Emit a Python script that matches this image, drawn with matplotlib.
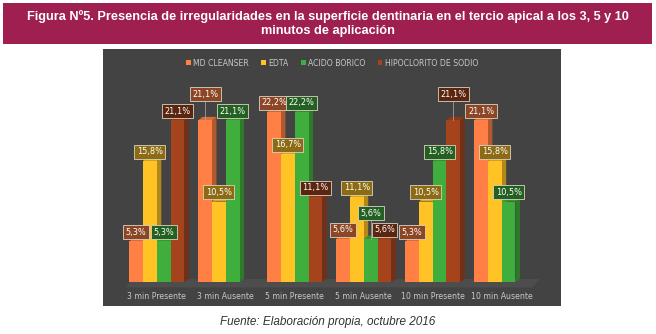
import numpy as np
import matplotlib.pyplot as plt
from matplotlib.patches import Polygon, Patch, Rectangle
from matplotlib.colors import to_rgb

categories = ['3 min Presente', '3 min Ausente', '5 min Presente',
              '5 min Ausente', '10 min Presente', '10 min Ausente']
series = ['MD CLEANSER', 'EDTA', 'ACIDO BORICO', 'HIPOCLORITO DE SODIO']
md_cleanser = [5.3, 21.1, 22.2, 5.6, 5.3, 21.1]
edta = [15.8, 10.5, 16.7, 11.1, 10.5, 15.8]
acido_borico = [5.3, 21.1, 22.2, 5.6, 15.8, 10.5]
hipoclorito = [21.1, 0, 11.1, 5.6, 21.1, 0]
colors = ['#ff7f45', '#ffc325', '#3fae3c', '#a5431c']

title = ('Figura Nº5. Presencia de irregularidades en la superficie dentinaria en el tercio apical a los 3, 5 y 10\n'
         'minutos de aplicación')
source = 'Fuente: Elaboración propia, octubre 2016'

values = [md_cleanser, edta, acido_borico, hipoclorito]
# labels pushed higher (with a leader line) to avoid overlaps
raised = {(0, 1), (3, 4), (2, 3)}

W, H = 656, 334
fig = plt.figure(figsize=(W / 100, H / 100), dpi=100)
fig.patch.set_facecolor('white')

# title banner
fig.patches.append(Rectangle((3 / W, 1 - 44 / H), 649 / W, 41 / H,
                             transform=fig.transFigure, facecolor='#9e1f50',
                             edgecolor='none', zorder=-1))
fig.text(0.5, 1 - 23.5 / H, title, ha='center', va='center', color='white',
         fontsize=9.2, fontweight='bold', linespacing=1.2,
         family=['Liberation Sans', 'DejaVu Sans'])

# dark chart panel
fig.patches.append(Rectangle((103 / W, 1 - 306 / H), 458 / W, 257 / H,
                             transform=fig.transFigure, facecolor='#434343',
                             edgecolor='none', zorder=-1))

ax = fig.add_axes([103 / W, 1 - 289 / H, 458 / W, 240 / H])
ax.patch.set_visible(False)
ax.set_xlim(-0.78, 5.86)
ax.set_ylim(-0.9, 30.4)
for s in ax.spines.values():
    s.set_visible(False)
ax.set_yticks([])

def shade(c, f):
    r, g, b = to_rgb(c)
    if f < 1:
        return (r * f, g * f, b * f)
    return tuple(x + (1 - x) * (f - 1) for x in (r, g, b))

bw = 0.2
dx, dy = 0.065, 0.45
x = np.arange(len(categories))

# floor under the bars
ax.add_patch(Polygon([(-0.45, -0.7), (5.45, -0.7), (5.55, 0.4), (-0.35, 0.4)],
                     closed=True, facecolor='#4d4d4d', edgecolor='none', zorder=0))

for j, (vals, col) in enumerate(zip(values, colors)):
    xs = x + (j - 1.5) * bw
    for i, (xc, v) in enumerate(zip(xs, vals)):
        if v <= 0:
            continue
        x0, x1 = xc - bw / 2, xc + bw / 2
        ax.add_patch(Polygon([(x1, 0), (x1 + dx, dy), (x1 + dx, v + dy), (x1, v)],
                             closed=True, facecolor=shade(col, 0.7),
                             edgecolor='none', zorder=1))
        ax.add_patch(Polygon([(x0, v), (x0 + dx, v + dy), (x1 + dx, v + dy), (x1, v)],
                             closed=True, facecolor=shade(col, 0.85),
                             edgecolor='none', zorder=1))
        ax.bar(xc, v, width=bw, color=col, edgecolor='none', zorder=2)

        off = 3.4 if (j, i) in raised else 1.2
        if (j, i) in raised:
            ax.plot([xc, xc], [v, v + off - 0.7], color='#b0b0b0', lw=0.5, zorder=3)
        ax.text(xc, v + off, f'{v:.1f}'.replace('.', ',') + '%', ha='center',
                va='center', color='white', fontsize=5.9, zorder=4,
                bbox=dict(boxstyle='square,pad=0.3', facecolor=shade(col, 0.55),
                          edgecolor='#d8d4c0', lw=0.6))

ax.set_xticks(x)
ax.set_xticklabels(categories, fontsize=5.6, color='#c8c8c8')
ax.tick_params(axis='x', length=0, pad=2)

handles = [Patch(facecolor=c, label=s) for c, s in zip(colors, series)]
ax.legend(handles=handles, loc='center', bbox_to_anchor=(0.5, 1 - 14 / 240),
          ncol=4, frameon=False, fontsize=5.6, labelcolor='#c8c8c8',
          handlelength=0.6, handleheight=0.6, handletextpad=0.3, columnspacing=1.6)

fig.text(0.5, 1 - 322 / H, source, ha='center', va='center', color='#333333',
         fontsize=8.5, style='italic', family=['Liberation Sans', 'DejaVu Sans'])

fig.savefig('out.png', dpi=100)
